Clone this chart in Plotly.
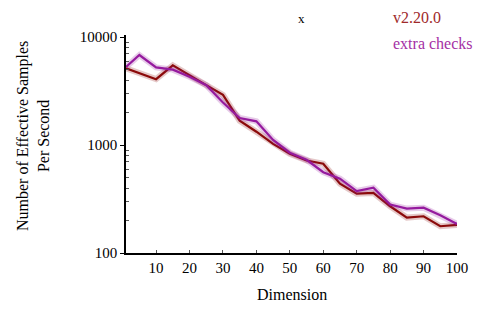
import plotly.graph_objects as go

dimension = [1, 5, 10, 15, 20, 25, 30, 35, 40, 45, 50, 55, 60, 65, 70, 75, 80, 85, 90, 95, 100]
v2_20_0 = [5150, 4650, 4080, 5480, 4400, 3590, 2920, 1680, 1330, 1025, 830, 720, 672, 438, 355, 360, 271, 213, 219, 177, 182]
extra_checks = [5300, 6830, 5250, 5000, 4300, 3590, 2480, 1780, 1660, 1117, 850, 731, 561, 488, 375, 403, 281, 258, 263, 224, 186]

red = "#8b0a0a"
purple = "#951a9e"
FONT = "Liberation Serif, Times New Roman, DejaVu Serif, serif"

# page offset of the figure (body margin) is 8px; plot area in page pixels: x 126-457, y 35-253
def px(page_x):
    return (page_x - 126) / 331

def py(page_y):
    return 1 + (35 - page_y) / 218

fig = go.Figure()
for ys, col, name in [(v2_20_0, red, "v2.20.0"), (extra_checks, purple, "extra checks")]:
    fig.add_trace(go.Scatter(x=dimension, y=ys, mode="lines", line=dict(color=col, width=6),
                             opacity=0.22, showlegend=False, hoverinfo="skip"))
    fig.add_trace(go.Scatter(x=dimension, y=ys, mode="lines", line=dict(color=col, width=2.2),
                             name=name, showlegend=False))

fig.update_layout(
    width=484, height=302,
    margin=dict(l=118, r=35, t=27, b=57, autoexpand=False),
    plot_bgcolor="white", paper_bgcolor="white",
    font=dict(family=FONT, size=15, color="black"),
    xaxis=dict(range=[1, 100], tickvals=[10, 20, 30, 40, 50, 60, 70, 80, 90, 100],
               showgrid=False, zeroline=False, showline=True, linecolor="black", linewidth=1.5,
               ticks="inside", ticklen=3, tickcolor="#555", automargin=False,
               tickfont=dict(size=15)),
    yaxis=dict(type="log", range=[2, 4.02], tickvals=[100, 1000, 10000],
               ticktext=["100", "1000", "10000"],
               showgrid=False, zeroline=False, showline=True, linecolor="black", linewidth=1.5,
               ticks="outside", ticklen=4, tickcolor="black", automargin=False,
               minor=dict(ticks="inside", ticklen=3, tickcolor="#555",
                          tickvals=[200, 300, 400, 500, 600, 700, 800, 900,
                                    2000, 3000, 4000, 5000, 6000, 7000, 8000, 9000]),
               tickfont=dict(size=15)),
)
fig.add_annotation(text="Number of Effective Samples<br>Per Second", textangle=-90,
                   x=px(33), y=py(136), xref="paper", yref="paper",
                   xanchor="center", yanchor="middle", showarrow=False, font=dict(size=16))
fig.add_annotation(text="Dimension", x=px(292), y=py(294), xref="paper", yref="paper",
                   xanchor="center", yanchor="middle", showarrow=False, font=dict(size=16))
fig.add_annotation(text="x", x=px(301), y=py(9), xref="paper", yref="paper",
                   xanchor="center", yanchor="top", showarrow=False, font=dict(size=13))
fig.add_annotation(text="v2.20.0", x=px(391), y=py(17), xref="paper", yref="paper",
                   xanchor="left", yanchor="middle", showarrow=False, font=dict(size=16, color="#a02a2a"))
fig.add_annotation(text="extra checks", x=px(391), y=py(43), xref="paper", yref="paper",
                   xanchor="left", yanchor="middle", showarrow=False, font=dict(size=16, color="#a530a5"))

fig.write_html("out.html")
